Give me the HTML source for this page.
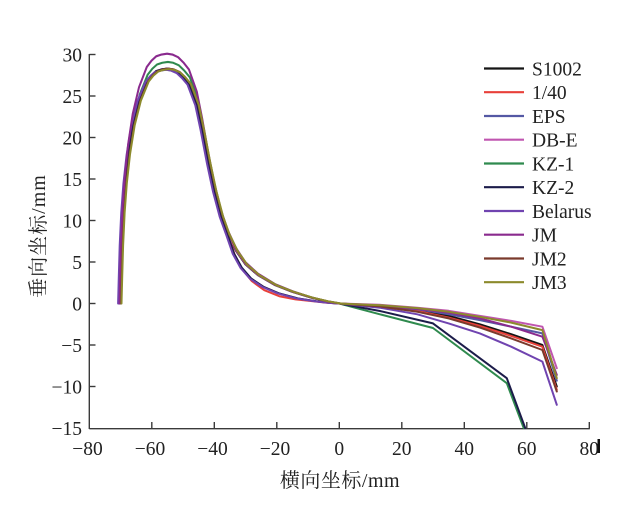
<!DOCTYPE html>
<html>
<head>
<meta charset="utf-8">
<style>
  html,body{margin:0;padding:0;background:#fff;}
  svg{display:block;}
  text{font-family:"Liberation Serif","Noto Serif CJK SC",serif;fill:#222;}
</style>
</head>
<body>
<svg width="628" height="516" viewBox="0 0 628 516" xmlns="http://www.w3.org/2000/svg">
  <defs>
    <polyline id="base" fill="none" points="119.9,303.5 120.55,278.6 121.5,245.4 123.05,212.2 125.2,183.15 128.4,154.1 133.05,125.05 139.3,100.15 147.1,81.1 151.8,75.2 156.5,71.1 161.8,69.4 167.4,68.6 172.7,69.4 178.4,71.9 183.7,76.9 189.3,83.55 197.1,104.3 202.4,129.2 208.7,162.4 214.9,191.45 221.5,216.35 228.05,234.6 236.2,251.2 245.55,264.5 258.05,275.3 275.2,285.25 292.4,291.9 311.2,297.7 326.8,301.4 339.3,303.5"/>
    <polyline id="baseB" fill="none" points="119.9,303.5 120.55,278.6 121.5,245.4 123.05,212.2 125.2,183.15 128.4,154.1 133.05,125.05 139.3,100.15 147.1,81.1 151.8,75.2 156.5,71.1 161.8,69.4 167.4,68.6 172.7,69.4 178.4,71.9 183.7,76.9 189.3,83.55 197.1,104.3 202.4,129.2 208.7,162.4 214.9,191.45 221.5,216.35 228.05,234.6 234.6,253.7 242.4,267.8 251.8,278.6 264.3,286.9 279.9,293.5 298.7,298.5 317.4,301.4 329.9,302.8 339.3,303.5"/>
  </defs>

  <!-- axes -->
  <g stroke="#3a3a3a" stroke-width="1.4" fill="none">
    <line x1="89.3" y1="54" x2="89.3" y2="429"/>
    <line x1="89.3" y1="428.7" x2="589.8" y2="428.7"/>
    <line x1="89.3" y1="54.5" x2="95.5" y2="54.5"/>
    <line x1="89.3" y1="96" x2="95.5" y2="96"/>
    <line x1="89.3" y1="137.5" x2="95.5" y2="137.5"/>
    <line x1="89.3" y1="179" x2="95.5" y2="179"/>
    <line x1="89.3" y1="220.5" x2="95.5" y2="220.5"/>
    <line x1="89.3" y1="262" x2="95.5" y2="262"/>
    <line x1="89.3" y1="303.5" x2="95.5" y2="303.5"/>
    <line x1="89.3" y1="345" x2="95.5" y2="345"/>
    <line x1="89.3" y1="386.5" x2="95.5" y2="386.5"/>
    <line x1="151.8" y1="428.7" x2="151.8" y2="422"/>
    <line x1="214.3" y1="428.7" x2="214.3" y2="422"/>
    <line x1="276.8" y1="428.7" x2="276.8" y2="422"/>
    <line x1="339.3" y1="428.7" x2="339.3" y2="422"/>
    <line x1="401.8" y1="428.7" x2="401.8" y2="422"/>
    <line x1="464.3" y1="428.7" x2="464.3" y2="422"/>
    <line x1="526.8" y1="428.7" x2="526.8" y2="422"/>
    <line x1="589.3" y1="428.7" x2="589.3" y2="422"/>
  </g>

  <!-- y tick labels -->
  <g font-size="19.5" text-anchor="end">
    <text x="82" y="61.5">30</text>
    <text x="82" y="103">25</text>
    <text x="82" y="144.5">20</text>
    <text x="82" y="186">15</text>
    <text x="82" y="227.5">10</text>
    <text x="82" y="269">5</text>
    <text x="82" y="310.5">0</text>
    <text x="82" y="352">−5</text>
    <text x="82" y="393.5">−10</text>
    <text x="82" y="435">−15</text>
  </g>
  <!-- x tick labels -->
  <g font-size="19.5" text-anchor="middle">
    <text x="87.5" y="455">−80</text>
    <text x="150" y="455">−60</text>
    <text x="212.5" y="455">−40</text>
    <text x="275" y="455">−20</text>
    <text x="339.3" y="455">0</text>
    <text x="401.8" y="455">20</text>
    <text x="464.3" y="455">40</text>
    <text x="526.8" y="455">60</text>
    <text x="589.3" y="455">80</text>
  </g>
  <rect x="597.5" y="439" width="2.5" height="14" fill="#111"/>

  <!-- axis titles -->
  <text x="340" y="487" font-size="20" text-anchor="middle" letter-spacing="0.5">横向坐标/mm</text>
  <text transform="translate(45,236) rotate(-90)" font-size="20" text-anchor="middle" letter-spacing="1">垂向坐标/mm</text>

  <!-- series -->
  <g fill="none" stroke-width="2" stroke-linejoin="round" stroke-linecap="round">
    <!-- S1002 -->
    <use href="#base" stroke="#151515"/>
    <polyline stroke="#151515" points="339.3,303.5 379.9,306 417.4,310.1 448.7,315.9 479.9,324.3 511.2,334.2 542.4,345 556.8,386.5"/>
    <!-- 1/40 -->
    <polyline stroke="#e8403a" points="119.9,303.5 120.55,278.6 121.5,245.4 123.05,212.2 125.2,183.15 128.4,154.1 133.05,125.05 139.3,100.15 147.1,81.1 151.8,75.2 156.5,71.1 161.8,69.4 167.4,68.6 172.7,69.4 178.4,71.9 183.7,76.9 189.3,83.55 197.1,104.3 202.4,129.2 208.7,162.4 214.9,191.45 221.5,216.35 228.05,234.6 234.6,254.5 242.4,269.5 251.8,281.1 264.3,290.2 279.9,296.4 295.5,299.35 314.3,301.4 326.8,302.7 339.3,303.5"/>
    <polyline stroke="#e8403a" points="339.3,303.5 379.9,306 417.4,311 448.7,317.6 479.9,325.9 511.2,335.9 542.4,346.7 556.8,389.8"/>
    <!-- EPS -->
    <use href="#baseB" stroke="#5458a4" transform="matrix(1,0,0,0.995,-1,1.52)"/>
    <polyline stroke="#5458a4" points="339.3,303.5 379.9,306 417.4,309.3 448.7,314.3 479.9,320.1 511.2,326.7 542.4,333.4 556.8,380.7"/>
    <!-- DB-E -->
    <use href="#base" stroke="#c056b0" transform="translate(0.5,0)"/>
    <polyline stroke="#c056b0" points="339.3,303.5 379.9,304.8 417.4,307.7 448.7,310.8 479.9,315.9 511.2,320.9 542.4,326.7 556.8,368.2"/>
    <!-- KZ-1 -->
    <use href="#base" stroke="#2f8a4e" transform="matrix(1,0,0,1.0283,0.5,-8.59)"/>
    <polyline stroke="#2f8a4e" points="339.3,303.5 379.9,314.3 433,328 506.8,383.2 523.7,428"/>
    <!-- KZ-2 -->
    <use href="#baseB" stroke="#1c1c4a" transform="translate(-0.5,0)"/>
    <polyline stroke="#1c1c4a" points="339.3,303.5 379.9,311 433,323.4 506.8,378.2 525.2,428"/>
    <!-- Belarus -->
    <use href="#baseB" stroke="#7044b0" transform="matrix(1,0,0,0.995,-1.8,1.52)"/>
    <polyline stroke="#7044b0" points="339.3,303.5 379.9,307.7 417.4,314.3 448.7,323.4 479.9,333.4 511.2,346.7 542.4,361.6 556.8,404.8"/>
    <!-- JM -->
    <use href="#base" stroke="#8a2a8e" transform="matrix(1,0,0,1.0636,-0.3,-19.3)"/>
    <polyline stroke="#8a2a8e" points="339.3,303.5 379.9,305.6 417.4,308.9 448.7,312.6 479.9,318.4 511.2,326.7 542.4,336.7 556.8,374.9"/>
    <!-- JM2 -->
    <use href="#base" stroke="#7a3a2c" transform="translate(1.2,0)"/>
    <polyline stroke="#7a3a2c" points="339.3,303.5 379.9,306.4 417.4,311.8 448.7,318.4 479.9,327.6 511.2,338.4 542.4,350 556.8,391.5"/>
    <!-- JM3 -->
    <use href="#base" stroke="#8c8a2c" transform="matrix(1,0,0,0.998,1.6,0.61)"/>
    <polyline stroke="#8c8a2c" points="339.3,303.5 379.9,305.2 417.4,308.1 448.7,311.8 479.9,316.8 511.2,322.6 542.4,330.1 556.8,378.2"/>
  </g>

  <!-- legend -->
  <g stroke-width="2.2">
    <line x1="484" y1="68.5" x2="524" y2="68.5" stroke="#151515"/>
    <line x1="484" y1="92.2" x2="524" y2="92.2" stroke="#e8403a"/>
    <line x1="484" y1="116" x2="524" y2="116" stroke="#5458a4"/>
    <line x1="484" y1="139.7" x2="524" y2="139.7" stroke="#c056b0"/>
    <line x1="484" y1="163.5" x2="524" y2="163.5" stroke="#2f8a4e"/>
    <line x1="484" y1="187.2" x2="524" y2="187.2" stroke="#1c1c4a"/>
    <line x1="484" y1="211" x2="524" y2="211" stroke="#7044b0"/>
    <line x1="484" y1="234.7" x2="524" y2="234.7" stroke="#8a2a8e"/>
    <line x1="484" y1="258.5" x2="524" y2="258.5" stroke="#7a3a2c"/>
    <line x1="484" y1="282.2" x2="524" y2="282.2" stroke="#8c8a2c"/>
  </g>
  <g font-size="19.5">
    <text x="532" y="75.5">S1002</text>
    <text x="532" y="99.2">1/40</text>
    <text x="532" y="123">EPS</text>
    <text x="532" y="146.7">DB-E</text>
    <text x="532" y="170.5">KZ-1</text>
    <text x="532" y="194.2">KZ-2</text>
    <text x="532" y="218">Belarus</text>
    <text x="532" y="241.7">JM</text>
    <text x="532" y="265.5">JM2</text>
    <text x="532" y="289.2">JM3</text>
  </g>
</svg>
</body>
</html>
